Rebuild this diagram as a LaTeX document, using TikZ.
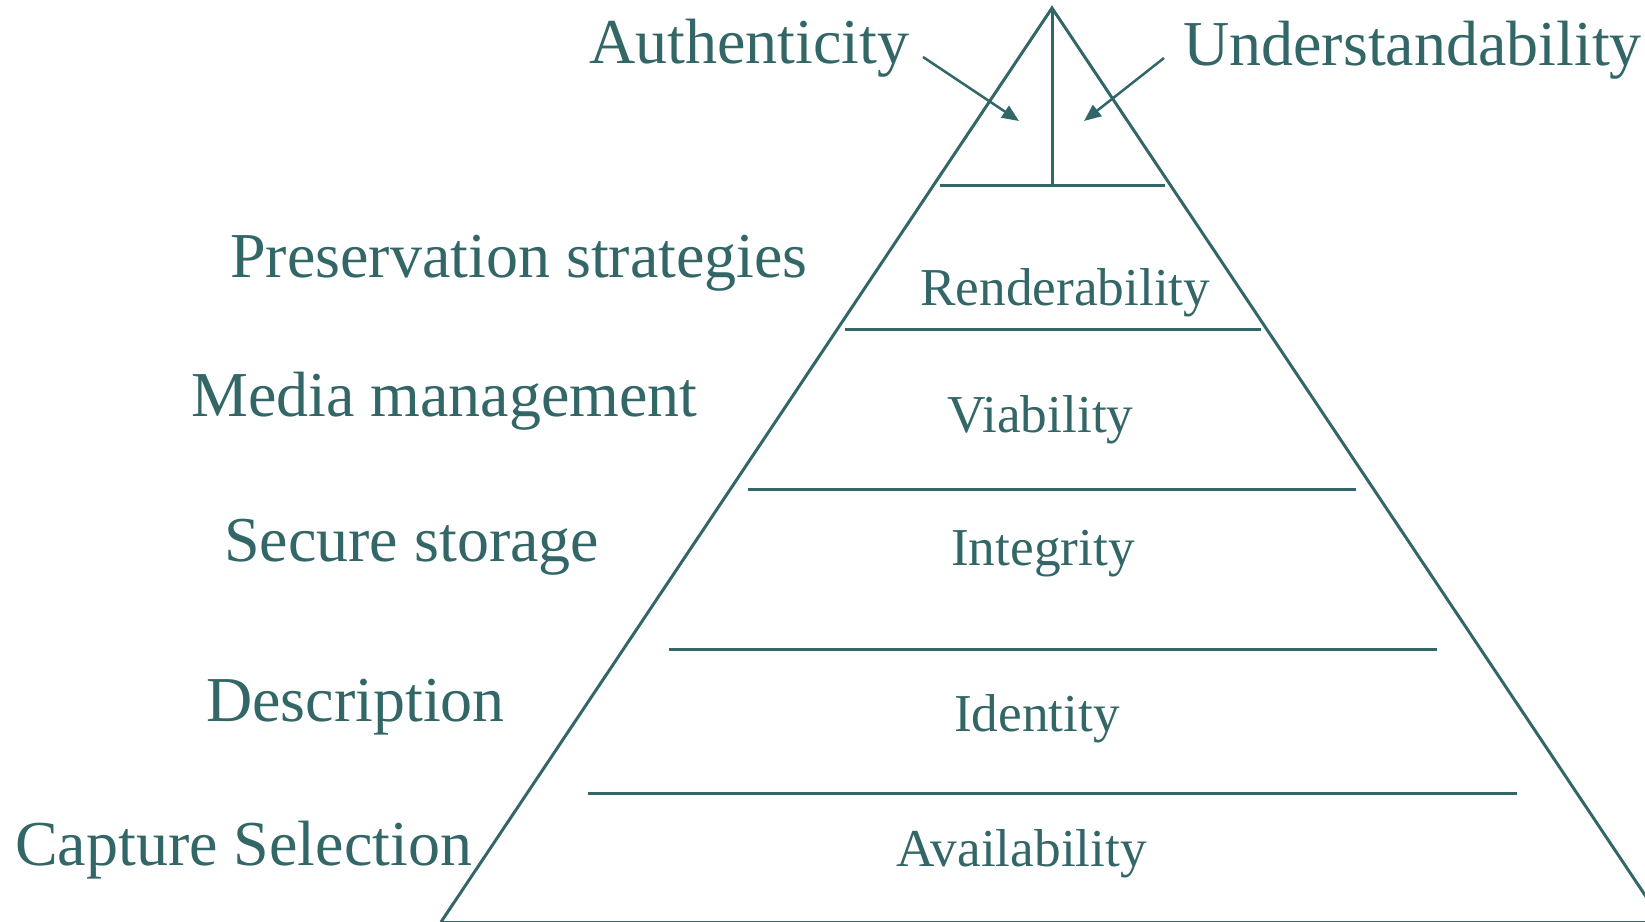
\documentclass[tikz,border=0pt]{standalone}
\usepackage{fontspec}
\setmainfont{Liberation Serif}
\usetikzlibrary{arrows.meta}
\definecolor{teal}{RGB}{51,102,102}
\begin{document}
\begin{tikzpicture}[x=1pt,y=-1pt,
  ruleline/.style={draw=teal,line width=3pt},
  biglabel/.style={anchor=base west,inner sep=0pt,text=teal,font=\fontsize{64}{70}\selectfont},
  layerlabel/.style={anchor=base west,inner sep=0pt,text=teal,font=\fontsize{53.3}{60}\selectfont},
  pointer/.style={draw=teal,line width=2.5pt,-{Triangle[length=17pt,width=14pt]}}]
\useasboundingbox (0,0) rectangle (1645,921);
\clip (0,0) rectangle (1645,921);

% pyramid outline
\coordinate (apex) at (1052,8);
\coordinate (baseL) at (441,922);
\coordinate (baseR) at (1663,922);
\draw[ruleline] (baseL) -- (apex) -- (baseR);
\draw[ruleline] (baseL) -- (baseR);

% layer dividers
\coordinate (d1l) at (940,185.5);  \coordinate (d1r) at (1165,185.5);
\coordinate (d2l) at (845,329.5);  \coordinate (d2r) at (1261,329.5);
\coordinate (d3l) at (748,489);    \coordinate (d3r) at (1356,489);
\coordinate (d4l) at (669,649.5);  \coordinate (d4r) at (1437,649.5);
\coordinate (d5l) at (588,793);    \coordinate (d5r) at (1517,793);
\coordinate (d1m) at (1052,185.5);
\draw[ruleline] (d1l) -- (d1r);
\draw[ruleline] (apex) -- (d1m);
\draw[ruleline] (d2l) -- (d2r);
\draw[ruleline] (d3l) -- (d3r);
\draw[ruleline] (d4l) -- (d4r);
\draw[ruleline] (d5l) -- (d5r);

% top labels and their pointers
\node[biglabel] (auth) at (589,63.5) {Authenticity};
\node[biglabel] (under) at (1183,65) {Understandability};
\coordinate (authstart) at (923,57);
\coordinate (authtip) at (1019,121);
\coordinate (understart) at (1164,58);
\coordinate (undertip) at (1084,121);
\draw[pointer] (authstart) -- (authtip);
\draw[pointer] (understart) -- (undertip);

% activities on the left
\node[biglabel] (pres) at (230,277) {Preservation strategies};
\node[biglabel] (media) at (191,416) {Media management};
\node[biglabel] (secure) at (224,561.5) {Secure storage};
\node[biglabel] (descr) at (206,721.5) {Description};
\node[biglabel] (capt) at (15,865) {Capture Selection};

% properties inside the pyramid
\node[layerlabel] (rend) at (920,305) {Renderability};
\node[layerlabel] (viab) at (947,432) {Viability};
\node[layerlabel] (integ) at (951,565.5) {Integrity};
\node[layerlabel] (ident) at (954,731) {Identity};
\node[layerlabel] (avail) at (896,866.5) {Availability};
\end{tikzpicture}
\end{document}
